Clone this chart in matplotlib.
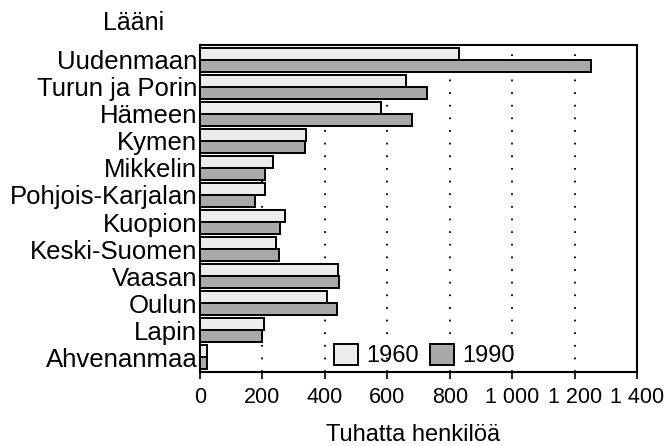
import matplotlib
matplotlib.use("Agg")
import matplotlib.pyplot as plt
import numpy as np

plt.rcParams['font.family'] = ['Liberation Sans', 'DejaVu Sans']

regions = ["Uudenmaan", "Turun ja Porin", "Hämeen", "Kymen", "Mikkelin",
           "Pohjois-Karjalan", "Kuopion", "Keski-Suomen", "Vaasan", "Oulun",
           "Lapin", "Ahvenanmaa"]
pop_1960 = [831, 659, 581, 339, 235, 207, 271, 245, 443, 407, 206, 21]
pop_1990 = [1253, 728, 680, 336, 207, 177, 256, 254, 445, 438, 200, 23]
series_labels = ["1960", "1990"]
xticks = [0, 200, 400, 600, 800, 1000, 1200, 1400]
xtick_labels = ["0", "200", "400", "600", "800", "1 000", "1 200", "1 400"]

fig = plt.figure(figsize=(6.66, 4.46), dpi=100)
ax = fig.add_axes([200/666, 1-372/446, 437/666, 327/446])

y = np.arange(len(regions))
h = 0.44
ax.barh(y - h/2, pop_1960, height=h, color="#ececec", edgecolor="black",
        linewidth=1.4, label=series_labels[0], zorder=3)
ax.barh(y + h/2, pop_1990, height=h, color="#a9a9a9", edgecolor="black",
        linewidth=1.4, label=series_labels[1], zorder=3)

ax.set_xlim(0, 1400)
ax.set_ylim(11.55, -0.55)
ax.set_xticks(xticks)
ax.set_xticklabels(xtick_labels, fontsize=15.5)
ax.set_yticks(y)
ax.set_yticklabels(regions, fontsize=18.5)
ax.tick_params(axis='y', length=0, pad=2)
ax.tick_params(axis='x', length=5, width=1.2, pad=6, direction='out')

for xv in xticks[1:-1]:
    ax.axvline(xv, color="black", linestyle=(0, (1, 6)), linewidth=1.3, zorder=1)

for s in ax.spines.values():
    s.set_linewidth(1.5)

leg = ax.legend(loc='lower left', bbox_to_anchor=(0.285, -0.015), ncol=2,
                frameon=False, fontsize=17, handlelength=1.0, handleheight=1.0,
                handletextpad=0.35, columnspacing=0.5, borderaxespad=0)

fig.text(103/666, 1-30/446, "Lääni", fontsize=18, ha='left', va='baseline')
fig.text(413/666, 1-435/446, "Tuhatta henkilöä", fontsize=17, ha='center', va='center')

fig.savefig("out.png", dpi=100)
